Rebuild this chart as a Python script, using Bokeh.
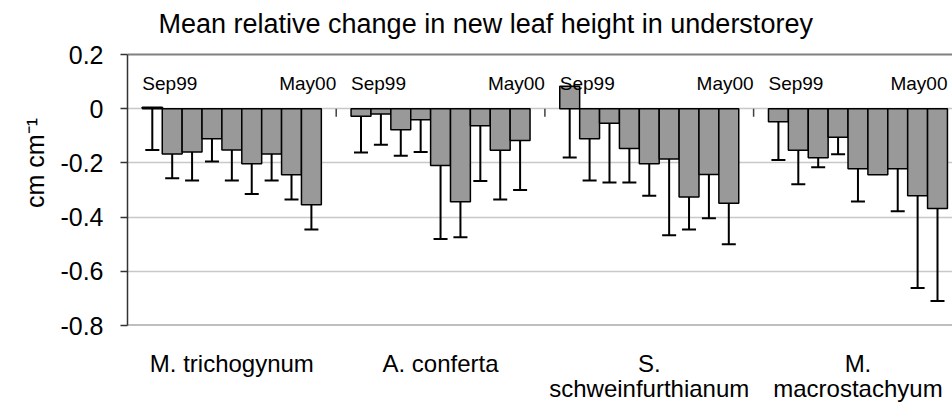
import math
from bokeh.plotting import figure
from bokeh.models import Range1d, FixedTicker, ColumnDataSource
from bokeh.core.properties import value
from bokeh.embed import file_html
from bokeh.resources import INLINE

# ---------------- data ----------------
species = ["M. trichogynum", "A. conferta", "S.\nschweinfurthianum", "M.\nmacrostachyum"]
months = ["Sep99", "Oct99", "Nov99", "Dec99", "Jan00", "Feb00", "Mar00", "Apr00", "May00"]
first_month_label = "Sep99"
last_month_label = "May00"

mean_trichogynum = [0.005, -0.167, -0.160, -0.111, -0.152, -0.203, -0.167, -0.244, -0.354]
err_trichogynum = [0.157, 0.090, 0.105, 0.084, 0.113, 0.112, 0.098, 0.091, 0.092]

mean_conferta = [-0.028, -0.020, -0.078, -0.041, -0.210, -0.343, -0.063, -0.153, -0.117]
err_conferta = [0.134, 0.113, 0.096, 0.119, 0.271, 0.131, 0.204, 0.182, 0.183]

mean_schweinfurthianum = [0.083, -0.111, -0.054, -0.147, -0.203, -0.186, -0.326, -0.243, -0.349]
err_schweinfurthianum = [0.263, 0.154, 0.218, 0.125, 0.118, 0.281, 0.120, 0.161, 0.151]

mean_macrostachyum = [-0.048, -0.153, -0.181, -0.105, -0.222, -0.244, -0.222, -0.321, -0.368]
err_macrostachyum = [0.141, 0.126, 0.035, 0.063, 0.120, float("nan"), 0.156, 0.341, 0.342]

y_ticks = [-0.8, -0.6, -0.4, -0.2, 0, 0.2]
y_tick_labels = ["-0.8", "-0.6", "-0.4", "-0.2", "0", "0.2"]

title_text = "Mean relative change in new leaf height in understorey"
y_label = "cm cm\u207b\u00b9"

means = [mean_trichogynum, mean_conferta, mean_schweinfurthianum, mean_macrostachyum]
errs = [err_trichogynum, err_conferta, err_schweinfurthianum, err_macrostachyum]

# ---------------- layout helpers ----------------
FONT = "Liberation Sans"
pad = 0.0712
n = len(months)
bw = (1 - 2 * pad) / n
y_min, y_max = y_ticks[0], y_ticks[-1]
y_view_top = y_max + 54 / 271  # room above the plot area for the title

xs, tops = [], []
ex, ey0, ey1 = [], [], []
for g, (mv, ev) in enumerate(zip(means, errs)):
    for i, (m, e) in enumerate(zip(mv, ev)):
        x = g + pad + (i + 0.5) * bw
        xs.append(x)
        tops.append(m)
        if not math.isnan(e):
            ex.append(x)
            ey0.append(m)
            ey1.append(m - e)

bars = ColumnDataSource(dict(x=xs, top=tops))
errsrc = ColumnDataSource(dict(x=ex, y0=ey0, y1=ey1))

p = figure(width=952, height=410, output_backend="svg", toolbar_location=None,
           x_range=Range1d(0, 3.953), y_range=Range1d(y_min, y_view_top),
           min_border_left=127, min_border_right=0, min_border_top=0,
           min_border_bottom=85)
p.outline_line_color = None
p.background_fill_color = "white"
p.border_fill_color = "white"
p.title.visible = False

# grid
p.xgrid.visible = False
p.ygrid.ticker = FixedTicker(ticks=[-0.6, -0.4, -0.2, 0])
p.ygrid.grid_line_color = "#c8c8c8"
p.ygrid.grid_line_width = 1.5

# plot-area top / bottom border lines
p.segment(x0=[0, 0], y0=[y_max, y_min], x1=[4, 4], y1=[y_max, y_min],
          line_color="#808080", line_width=2)

# y axis
ya = p.yaxis[0]
ya.bounds = (y_min, y_max)
ya.ticker = FixedTicker(ticks=y_ticks)
ya.major_label_overrides = {t: l for t, l in zip(y_ticks, y_tick_labels)}
ya.minor_tick_line_color = None
ya.major_tick_in = 0
ya.major_tick_out = 7
ya.major_tick_line_color = "#333333"
ya.major_tick_line_width = 1.5
ya.axis_line_color = "#333333"
ya.axis_line_width = 1.5
ya.major_label_text_font = FONT
ya.major_label_text_font_size = "25px"
ya.major_label_text_color = "black"
ya.major_label_standoff = 17
ya.axis_label = y_label
ya.axis_label_text_font = FONT
ya.axis_label_text_font_size = "25px"
ya.axis_label_text_font_style = "normal"
ya.axis_label_text_color = "black"
ya.axis_label_standoff = 8

# x axis (category labels)
xa = p.xaxis[0]
xa.ticker = FixedTicker(ticks=[g + 0.5 for g in range(len(species))])
xa.major_label_overrides = {g + 0.5: s for g, s in enumerate(species)}
xa.axis_line_color = None
xa.major_tick_line_color = None
xa.minor_tick_line_color = None
xa.major_label_text_font = FONT
xa.major_label_text_font_size = "24px"
xa.major_label_text_line_height = 0.95
xa.major_label_text_color = "black"
xa.major_label_standoff = 18

# group boundary ticks on the zero line
p.ray(x=[1, 2, 3], y=[0, 0, 0], length=8, length_units="screen",
      angle=-math.pi / 2, line_color="#404040", line_width=1.5)

# error bars (drawn beneath the bars)
p.segment(x0="x", y0="y0", x1="x", y1="y1", source=errsrc,
          line_color="black", line_width=2)
p.scatter(x="x", y="y1", source=errsrc, marker="dash", size=14,
          line_color="black", line_width=2)

# bars
p.vbar(x="x", top="top", bottom=0, width=bw, source=bars,
       fill_color="#999999", line_color="black", line_width=1.5)

# first / last month annotations
p.text(x=[g + pad for g in range(4)], y=[0.093] * 4,
       text=[first_month_label] * 4, text_align="left", text_baseline="middle",
       text_font=value(FONT), text_font_size="19px", text_color="black")
p.text(x=[min(g + 1, 4 - pad) for g in range(4)], y=[0.093] * 4,
       text=[last_month_label] * 4, text_align="right", text_baseline="middle",
       text_font=value(FONT), text_font_size="19px", text_color="black")

# chart title
p.text(x=[0.1485], y=[0.311], text=[title_text], text_align="left",
       text_baseline="alphabetic", text_font=value(FONT),
       text_font_size="27px", text_color="black")

open("out.html", "w").write(file_html(p, INLINE))
